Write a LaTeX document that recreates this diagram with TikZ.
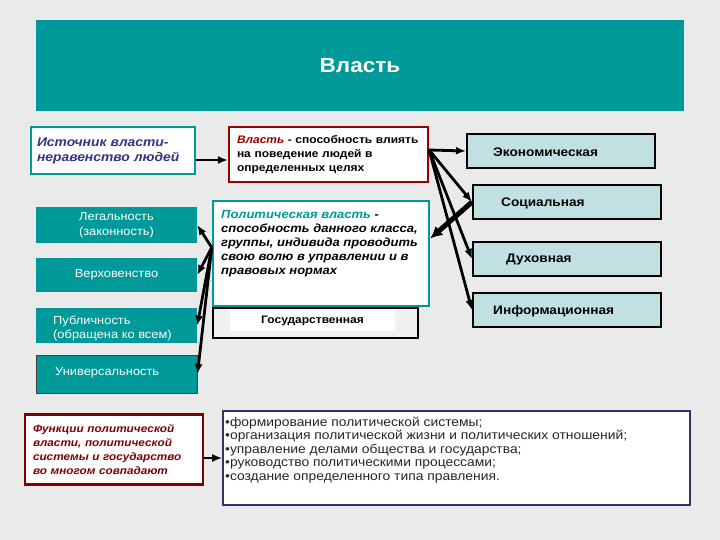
\documentclass[tikz,border=0pt]{standalone}
\usepackage{fontspec}
\setmainfont{Liberation Sans}[FakeStretch=1.1]
\usetikzlibrary{positioning,calc,arrows.meta}
\definecolor{VTeal}{RGB}{0,153,153}
\definecolor{VRed}{RGB}{153,0,0}
\definecolor{VMaroon}{RGB}{128,0,0}
\definecolor{VNavy}{RGB}{51,51,136}
\definecolor{VFrame}{RGB}{51,51,102}
\definecolor{VCyan}{RGB}{192,224,226}
\definecolor{VGray}{RGB}{234,234,234}

\begin{document}
\begin{tikzpicture}[
		x=1pt, y=-1pt,
		tealbox/.style={fill=VTeal, text=white, minimum width=161pt, inner sep=0pt, align=center, font=\fontsize{11.7}{15}\selectfont},
		rbox/.style={draw=black, line width=2pt, fill=VCyan, minimum width=188pt, minimum height=34pt, inner sep=0pt},
		rtext/.style={anchor=west, inner sep=0pt, font=\bfseries\fontsize{12.4}{14}\selectfont},
		arr/.style={-{Latex[length=10pt,width=8pt]}, line width=2.8pt}
		]
		% ===== фон =====
		\fill[VGray] (0,0) rectangle (720,540);
		
		% ===== заголовок =====
		\node[fill=VTeal, minimum width=648pt, minimum height=91pt, text=white, font=\bfseries\fontsize{20.5}{24}\selectfont] (title) at (360,65.5) {Власть};
		
		% ===== верхний ряд =====
		\node[draw=VTeal, line width=2.2pt, fill=white, minimum height=47pt, text width=152pt, inner xsep=6pt, align=left, text=VNavy, font=\bfseries\itshape\fontsize{12.6}{15}\selectfont] (src) at (113,150.5) {Источник власти-\\неравенство людей};
		\node[draw=VRed, line width=2.2pt, fill=white, minimum height=55pt, text width=183pt, inner xsep=8pt, align=left, font=\bfseries\fontsize{10.9}{14}\selectfont] (def) at (328.5,154.5) {\textcolor{VRed}{\itshape Власть} - способность влиять\\на поведение людей в\\определенных целях};
		
		% ===== политическая власть =====
		\node[draw=VTeal, line width=2.5pt, fill=white, minimum width=216pt, minimum height=105pt] (pol) at (321,253.5) {};
		\node[anchor=north west, inner sep=0pt, align=left, font=\bfseries\itshape\fontsize{11.8}{14}\selectfont] (polT) at (221,210) {\textcolor{VTeal}{Политическая власть} -\\способность данного класса,\\группы, индивида проводить\\свою волю в управлении и в\\правовых нормах};
		\node[draw=black, line width=1.5pt, fill=gray!12, minimum width=205pt, minimum height=30pt] (gosB) at (315.5,323) {};
		\node[fill=white, minimum width=165pt, minimum height=21pt, font=\bfseries\fontsize{10.9}{12}\selectfont] (gos) at (312.5,320.5) {Государственная};
		
		% ===== признаки (слева) =====
		\node[tealbox, minimum height=36pt] (leg) at (116.5,225) {Легальность\\(законность)};
		\node[tealbox, minimum height=34pt] (ver) at (116.5,275) {Верховенство};
		\node[tealbox, minimum height=35pt] (pub) at (116.5,325.5) {};
		\node[anchor=west, inner sep=0pt, align=left, text=white, font=\fontsize{11.7}{14}\selectfont] (pubT) at (53,328) {Публичность\\(обращена ко всем)};
		\node[tealbox, draw=black!75, line width=1pt, minimum height=38pt] (uni) at (116.5,374) {};
		\node[anchor=west, inner sep=0pt, text=white, font=\fontsize{11.7}{14}\selectfont] (uniT) at (55,373) {Универсальность};
		
		% ===== виды (справа) =====
		\foreach \n/\cx/\cy/\tx/\t in {ek/561/151/493/Экономическая, soc/567/202/501/Социальная, duh/567/259/506/Духовная, inf/567/310/493/Информационная}{
			\node[rbox] (\n) at (\cx,\cy) {};
			\node[rtext] (\n T) at (\tx,\cy+1) {\t};
		}
		
		% ===== функции =====
		\node[draw=VMaroon, line width=2.5pt, fill=white, minimum height=70pt, text width=162pt, inner xsep=8pt, align=left, text=VMaroon, font=\bfseries\itshape\fontsize{10.7}{13.7}\selectfont] (fun) at (114,449.5) {Функции политической\\власти, политической\\системы и государство\\во многом совпадают};
		\node[draw=VFrame, line width=1.6pt, fill=white, minimum width=467pt, minimum height=94pt] (lst) at (456.5,458) {};
		\node[anchor=north west, inner sep=0pt, align=left, text=black!85, font=\fontsize{12.6}{13.4}\selectfont] (lstT) at (225,417) {•формирование политической системы;\\•организация политической жизни и политических отношений;\\•управление делами общества и государства;\\•руководство политическими процессами;\\•создание определенного типа правления.};
		
		% ===== стрелки =====
		\coordinate (defIn) at ($(def.west)+(0,5.5)$);
		\coordinate (defOut) at ($(def.east)+(0,-4.5)$);
		\coordinate (polOut) at ($(pol.west)+(0,-6)$);
		\coordinate (polIn) at ($(pol.east)+(0,-15)$);
		\draw[arr] (src.east |- defIn) -- (defIn);
		\foreach \t in {leg,ver,pub,uni}
			\draw[arr] (polOut) -- (\t.east);
		\foreach \t in {ek,soc,duh,inf}
			\draw[arr] (defOut) -- (\t.west);
		\draw[-{Latex[length=12pt,width=12pt]}, line width=5pt] (soc.west) -- (polIn);
		\draw[arr] (fun.east |- lst.west) -- (lst.west);
		
	\end{tikzpicture}
\end{document}
